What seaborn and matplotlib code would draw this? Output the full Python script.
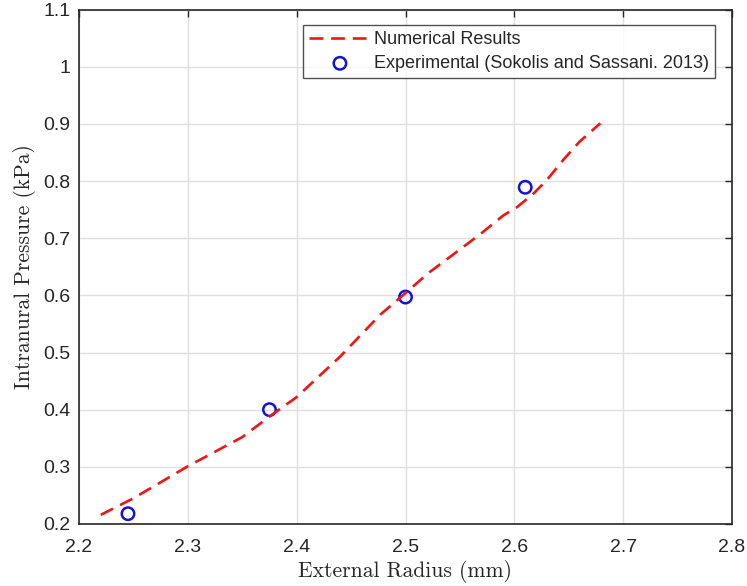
import matplotlib
matplotlib.use("Agg")
import matplotlib.pyplot as plt
import seaborn as sns
import pandas as pd

# Numerical results (dashed line)
num_radius = [2.22, 2.25, 2.30, 2.35, 2.375, 2.40, 2.44, 2.4767, 2.50, 2.521, 2.54, 2.57,
              2.59, 2.6023, 2.6176, 2.63, 2.645, 2.66, 2.679]
num_pressure = [0.216, 0.245, 0.301, 0.352, 0.388, 0.422, 0.493, 0.566, 0.604, 0.639, 0.666, 0.709,
                0.740, 0.754, 0.778, 0.802, 0.837, 0.869, 0.901]

# Experimental data (Sokolis and Sassani, 2013)
exp_radius = [2.245, 2.375, 2.50, 2.61]
exp_pressure = [0.218, 0.400, 0.597, 0.789]

sns.set_theme(style="white")
plt.rcParams['font.family'] = ['Liberation Sans', 'DejaVu Sans']

fig = plt.figure(figsize=(7.47, 5.86), dpi=100)
ax = fig.add_axes([79/747, 62/586, (732-79)/747, (524-9.5)/586])

num_df = pd.DataFrame({"r": num_radius, "p": num_pressure})
exp_df = pd.DataFrame({"r": exp_radius, "p": exp_pressure})

sns.lineplot(data=num_df, x="r", y="p", ax=ax, color="#f01515", lw=1.9,
             label="Numerical Results", sort=False)
ax.lines[0].set_dashes([5.2, 3.0])
sns.scatterplot(data=exp_df, x="r", y="p", ax=ax, marker="o", s=80,
                facecolor="none", edgecolor="#1414d0", linewidth=1.8,
                label="Experimental (Sokolis and Sassani. 2013)")

ax.set_xlim(2.2, 2.8)
ax.set_ylim(0.2, 1.1)
ax.set_xticks([2.2, 2.3, 2.4, 2.5, 2.6, 2.7, 2.8])
ax.set_xticklabels(["2.2", "2.3", "2.4", "2.5", "2.6", "2.7", "2.8"])
ax.set_yticks([0.2, 0.3, 0.4, 0.5, 0.6, 0.7, 0.8, 0.9, 1.0, 1.1])
ax.set_yticklabels(["0.2", "0.3", "0.4", "0.5", "0.6", "0.7", "0.8", "0.9", "1", "1.1"])
ax.grid(True, color="#e0e0e0", lw=1.0)
ax.tick_params(direction="in", length=5, width=1, colors="#262626",
               labelsize=14, top=True, right=True, labelcolor="#262626")
ax.tick_params(axis="x", pad=11)
ax.tick_params(axis="y", pad=6)
for s in ax.spines.values():
    s.set_color("#262626")
    s.set_linewidth(1.2)

ax.set_xlabel("External Radius (mm)", family="cmr10", fontsize=15.5, color="#262626", labelpad=3)
ax.set_ylabel("Intranural Pressure (kPa)", family="cmr10", fontsize=15.5, color="#262626", labelpad=5)

leg = ax.legend(loc="upper right", bbox_to_anchor=(1 - 17/653, 1 - 15/514.5),
                fontsize=13, frameon=True, fancybox=False, edgecolor="#262626",
                borderaxespad=0, handlelength=3.4, handletextpad=0.17,
                borderpad=0.35, labelspacing=0.4)
leg.get_frame().set_linewidth(1.0)

fig.savefig("out.png", dpi=100)
